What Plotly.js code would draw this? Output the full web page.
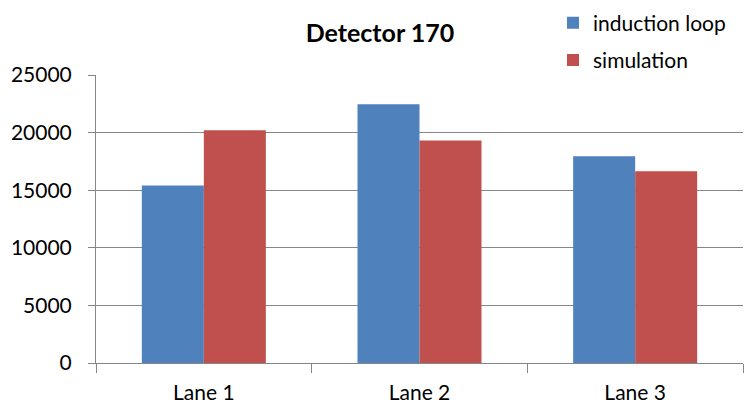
<!DOCTYPE html>
<html>
<head>
<meta charset="utf-8">
<script src="https://cdn.plot.ly/plotly-3.0.1.min.js"></script>
<style>html,body{margin:0;padding:0;background:#fff;}#chart{width:746px;height:404px;}</style>
</head>
<body>
<div id="chart"></div>
<script>
const categories = ["Lane 1", "Lane 2", "Lane 3"];
const inductionLoop = [15400, 22470, 17950];
const simulation = [20200, 19310, 16640];
const seriesNames = ["induction loop", "simulation"];
const yTicks = [0, 5000, 10000, 15000, 20000, 25000];

const fontFam = "Lato, 'Open Sans', 'DejaVu Sans', sans-serif";
const traces = [
  {type: "bar", name: seriesNames[0], x: categories, y: inductionLoop,
   marker: {color: "#4F81BD"}, legendgroup: "a"},
  {type: "bar", name: seriesNames[1], x: categories, y: simulation,
   marker: {color: "#C0504D"}, legendgroup: "b"}
];
const layout = {
  width: 746, height: 404,
  margin: {l: 96, r: 3, t: 73, b: 41},
  paper_bgcolor: "#fff", plot_bgcolor: "#fff",
  font: {family: fontFam, size: 21, color: "#000"},
  title: {text: "<b>Detector 170</b>", font: {family: fontFam, size: 25, color: "#000"},
          xref: "container", x: 380/746, xanchor: "center", yref: "container", y: 1 - 33/404, yanchor: "middle"},
  barmode: "group", bargap: 0.425, bargroupgap: 0,
  xaxis: {type: "category", tickson: "boundaries", ticks: "outside", ticklen: 9, tickcolor: "#868686",
          showline: true, linecolor: "#868686", linewidth: 1, showgrid: false,
          ticklabelstandoff: 11, tickfont: {size: 21, family: fontFam}},
  yaxis: {range: [0, 25000], tickvals: yTicks, ticktext: yTicks.map(String), ticks: "outside", ticklen: 7,
          tickcolor: "#868686", showline: true, linecolor: "#868686", linewidth: 1,
          showgrid: true, gridcolor: "#868686", gridwidth: 1, zeroline: false,
          ticklabelstandoff: 12, tickfont: {size: 21, family: fontFam}},
  showlegend: true,
  legend: {x: (553 - 96) / 647, xanchor: "left", y: 363 / 290, yanchor: "top", bgcolor: "rgba(0,0,0,0)",
           font: {size: 21, family: fontFam}, tracegroupgap: 7, itemwidth: 30, traceorder: "grouped"}
};
Plotly.newPlot("chart", traces, layout, {displayModeBar: false, staticPlot: true});
</script>
</body>
</html>
